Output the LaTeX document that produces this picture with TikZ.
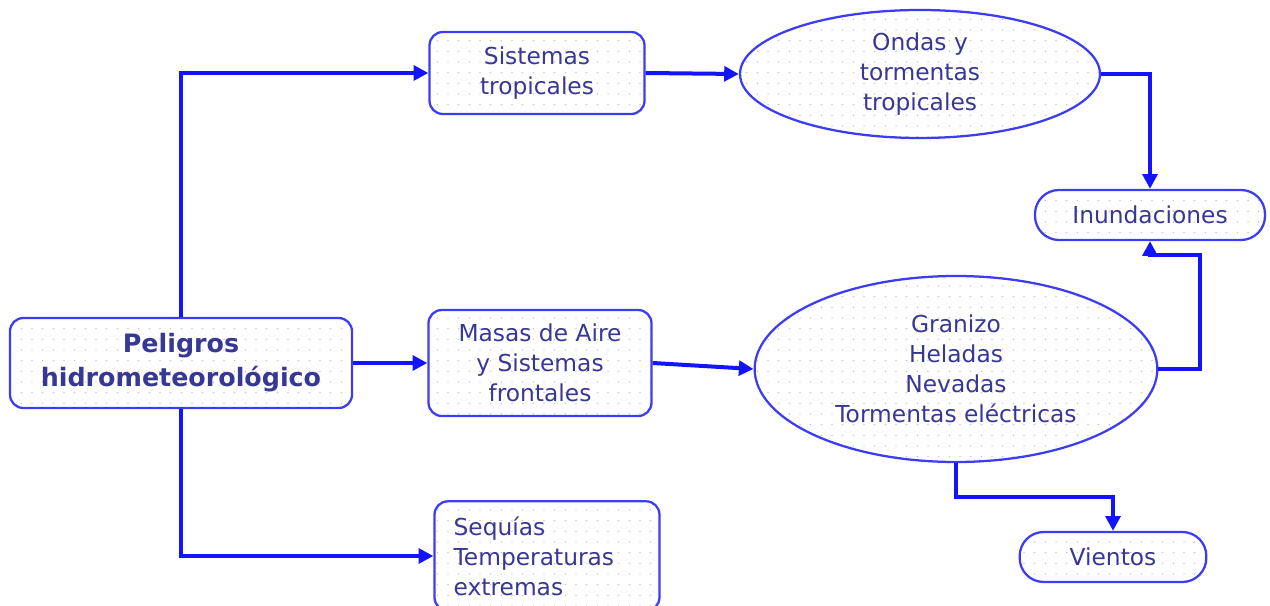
\documentclass[tikz,border=0pt]{standalone}
\usepackage{fontspec}
\setmainfont{DejaVu Sans}
\usetikzlibrary{arrows.meta,shapes.geometric,patterns.meta}
\definecolor{AzulLinea}{RGB}{20,20,250}
\definecolor{AzulBorde}{RGB}{60,60,245}
\definecolor{AzulTexto}{RGB}{55,55,150}

\begin{document}
\begin{tikzpicture}[x=0.75pt, y=-0.75pt,
    base/.style={draw=AzulBorde, line width=1.7pt, text=AzulTexto, align=center,
      pattern={Dots[distance=8pt, radius=0.55pt]}, pattern color=gray!55,
      font=\fontsize{17.5}{22.5}\selectfont, inner sep=0pt},
    caja/.style={base, rectangle, rounded corners=10pt},
    elipse/.style={base, ellipse},
    pastilla/.style={base, rectangle, rounded corners=18pt, minimum height=37.5pt},
    flecha/.style={draw=AzulLinea, line width=3pt, -{Triangle[length=11pt, width=11pt]}}
  ]
    \useasboundingbox (0,0) rectangle (1270,606);
    \node[caja, minimum width=256.5pt, minimum height=67.5pt,
      font=\fontsize{19}{25.5}\selectfont\bfseries] (pel) at (181,363) {Peligros\\hidrometeorológico};
    \node[caja, minimum width=161.25pt, minimum height=61.5pt] (sis) at (537,73) {Sistemas\\tropicales};
    \node[caja, minimum width=167.25pt, minimum height=79.5pt] (mas) at (540,363) {Masas de Aire\\y Sistemas\\frontales};
    \node[caja, minimum width=168.75pt, minimum height=82pt, align=left,
      text width=140pt, inner xsep=14pt] (seq) at (547,556) {Sequías\\Temperaturas\\extremas};
    \node[elipse, minimum width=270pt, minimum height=96pt] (ond) at (920,74) {Ondas y\\tormentas\\tropicales};
    \node[elipse, minimum width=302pt, minimum height=139.5pt] (gra) at (956,369) {Granizo\\Heladas\\Nevadas\\Tormentas eléctricas};
    \node[pastilla, minimum width=172.5pt] (inu) at (1150,215) {Inundaciones};
    \node[pastilla, minimum width=140pt] (vie) at (1113,557) {Vientos};
    \coordinate (codo1) at (1200,255);
    \coordinate (codo2) at (956,497);
    % conexiones
    \draw[flecha] (pel.north) |- (sis.west);
    \draw[flecha] (pel.south) |- (seq.west);
    \draw[flecha] (pel.east) -- (mas.west);
    \draw[flecha] (sis.east) -- (ond.west);
    \draw[flecha] (mas.east) -- (gra.west);
    \draw[flecha] (ond.east) -| (inu.north);
    \draw[flecha] (gra.east) -| (codo1) -| (inu.south);
    \draw[flecha] (gra.south) -- (codo2) -| (vie.north);
  \end{tikzpicture}
\end{document}
